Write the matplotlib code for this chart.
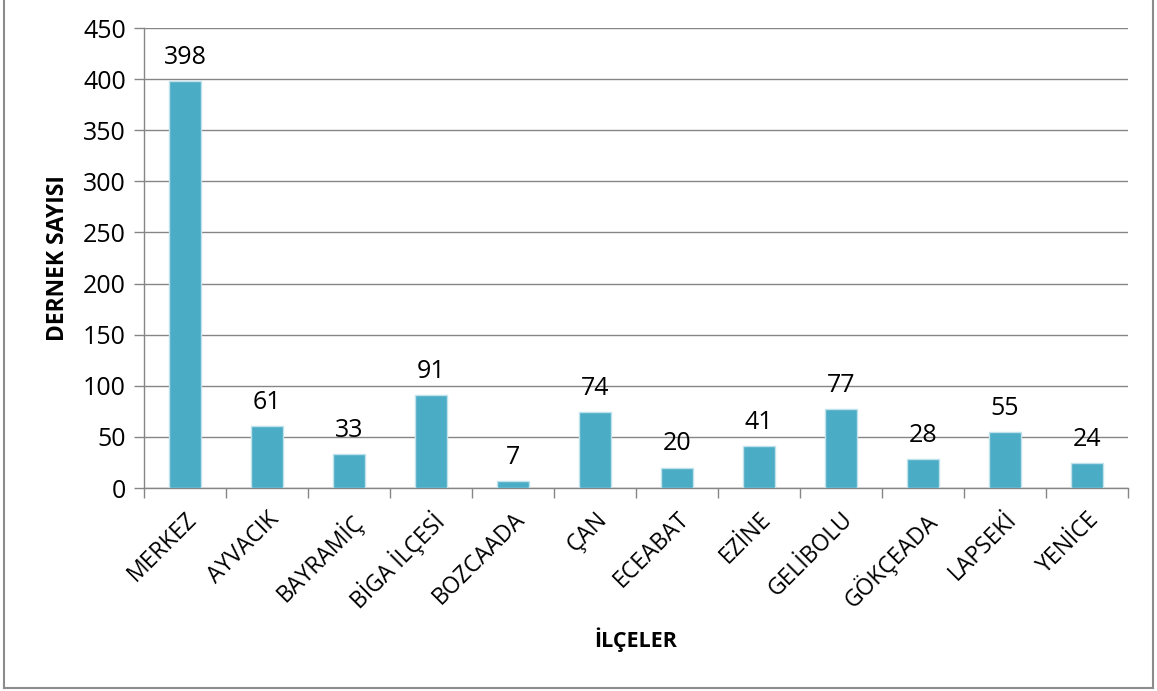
import matplotlib
matplotlib.use("Agg")
from matplotlib import pyplot as plt
from matplotlib.lines import Line2D

plt.rcParams['font.family'] = ['Open Sans', 'DejaVu Sans']

ilceler = ["MERKEZ", "AYVACIK", "BAYRAMİÇ", "BİGA İLÇESİ", "BOZCAADA", "ÇAN",
           "ECEABAT", "EZİNE", "GELİBOLU", "GÖKÇEADA", "LAPSEKİ", "YENİCE"]
dernek_sayisi = [398, 61, 33, 91, 7, 74, 20, 41, 77, 28, 55, 24]
y_ticks = [0, 50, 100, 150, 200, 250, 300, 350, 400, 450]

bar_color = '#4BACC6'
grid_color = '#868686'

fig = plt.figure(figsize=(11.57, 6.91), dpi=100)
ax = fig.add_axes([144/1157, 1 - 488/691, (1128-144)/1157, (488-28)/691])

x = list(range(len(ilceler)))
bars = ax.bar(x, dernek_sayisi, width=0.4, color=bar_color, edgecolor='#bfe2eb', linewidth=1, zorder=3)

for xi, v in zip(x, dernek_sayisi):
    ax.annotate(str(v), (xi, v), xytext=(0, 8), textcoords='offset points',
                ha='center', va='bottom', fontsize=18, color='black', zorder=4)

ax.set_xlim(-0.5, len(ilceler) - 0.5)
ax.set_ylim(0, 450)
ax.set_yticks(y_ticks)
ax.yaxis.grid(True, color=grid_color, linewidth=1)
ax.set_axisbelow(True)
ax.tick_params(axis='y', labelsize=18, length=7, width=1, color=grid_color, pad=6)

# category boundary ticks on x axis
ax.set_xticks([i - 0.5 for i in range(len(ilceler) + 1)], minor=False)
ax.set_xticklabels([''] * (len(ilceler) + 1))
ax.tick_params(axis='x', which='major', length=7, width=1, color=grid_color)
ax.set_xticks(x, minor=True)
ax.set_xticklabels(ilceler, minor=True, rotation=45, ha='right', va='top',
                   rotation_mode='anchor', fontsize=16.5)
ax.tick_params(axis='x', which='minor', length=0, pad=14)

for s in ['top', 'right']:
    ax.spines[s].set_visible(False)
for s in ['left', 'bottom']:
    ax.spines[s].set_color(grid_color)
    ax.spines[s].set_linewidth(1)

fig.text(636/1157, 1 - 640/691, 'İLÇELER', ha='center', va='center', fontsize=15.5, fontweight='bold')
fig.text(58/1157, 1 - 258/691, 'DERNEK SAYISI', ha='center', va='center', rotation=90,
         fontsize=16.5, fontweight='bold')

# outer frame
for xs, ys in [([4, 4], [0, 688]), ([1153, 1153], [0, 688]), ([4, 1153], [688, 688])]:
    fig.add_artist(Line2D([v / 1157 for v in xs], [1 - v / 691 for v in ys],
                          color='#8c8c8c', linewidth=1.5))

fig.savefig('out.png', dpi=100, facecolor='white')
